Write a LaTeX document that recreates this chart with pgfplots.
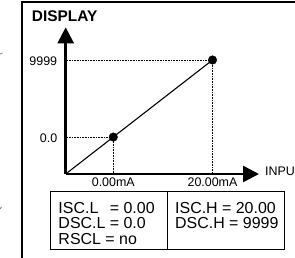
\documentclass[border=0pt]{standalone}
\usepackage{pgfplots}
\pgfplotsset{compat=1.18}
\usepackage{fontspec}
\setmainfont{Liberation Sans}
\usetikzlibrary{arrows.meta}
\begin{document}
\begin{tikzpicture}[x=1bp,y=1bp]
\useasboundingbox (0,0) rectangle (295,258);
% outer frame
\draw[line width=1.8bp] (21.7,0) -- (21.7,256.3) -- (295,256.3);
\draw[gray, line width=0.8bp] (0,204) -- (2.5,205);
\draw[gray, line width=0.8bp] (0,49) -- (1.5,51);
\begin{axis}[
  at={(65.7bp,84bp)}, anchor=south west,
  x=1bp, y=1bp,
  xmin=0, xmax=193.3, ymin=0, ymax=146.7,
  axis lines=left,
  axis line style={line width=2.6bp},
  x axis line style={-{Triangle[length=16bp,width=16bp]}},
  y axis line style={-{Triangle[length=16bp,width=16bp]}},
  major tick length=0pt,
  xtick={47.6,146.8}, xticklabels={0.00mA,20.00mA},
  ytick={36.96,114}, yticklabels={0.0,9999},
  /pgf/number format/assume math mode=true,
  tick label style={font=\fontsize{12.5}{13}\selectfont},
  xticklabel style={yshift=-0.5bp},
  yticklabel style={xshift=-5bp, yshift=-1.5bp},
  xlabel={INPU},
  xlabel style={at={(axis description cs:1,0)}, anchor=west, inner sep=0pt, xshift=6bp, yshift=2.3bp, font=\fontsize{12.5}{13}\selectfont},
  clip=false,
]
\addplot[black, line width=0.6bp, densely dotted] coordinates {(0,114) (146.8,114) (146.8,0)};
\addplot[black, line width=0.6bp, densely dotted] coordinates {(0,36.96) (47.6,36.96) (47.6,0)};
\addplot[black, line width=1.1bp] coordinates {(0,0) (146.8,114)};
\addplot[black, only marks, mark=*, mark size=4.3bp] coordinates {(47.6,36.96) (146.8,114)};
\end{axis}
% title
\node[anchor=west, inner sep=0pt, font=\bfseries\fontsize{15.5}{15.5}\selectfont] at (31.7,242) {DISPLAY};
% parameter boxes
\draw[line width=1bp] (50.7,8.7) rectangle (167.3,66);
\draw[line width=1bp] (167.3,8.7) rectangle (284,66);
\node[anchor=north west, inner sep=0pt, font=\fontsize{16}{15.2}\selectfont] at (58.3,56.3) {%
  \begin{tabular}{@{}l@{ }l@{}}
  ISC.L & = 0.00\\
  DSC.L & = 0.0\\
  \multicolumn{2}{@{}l@{}}{RSCL = no}
  \end{tabular}};
\node[anchor=north west, inner sep=0pt, font=\fontsize{16}{15.2}\selectfont] at (175,56.3) {%
  \begin{tabular}{@{}l@{}}
  ISC.H = 20.00\\
  DSC.H = 9999
  \end{tabular}};
\end{tikzpicture}
\end{document}
